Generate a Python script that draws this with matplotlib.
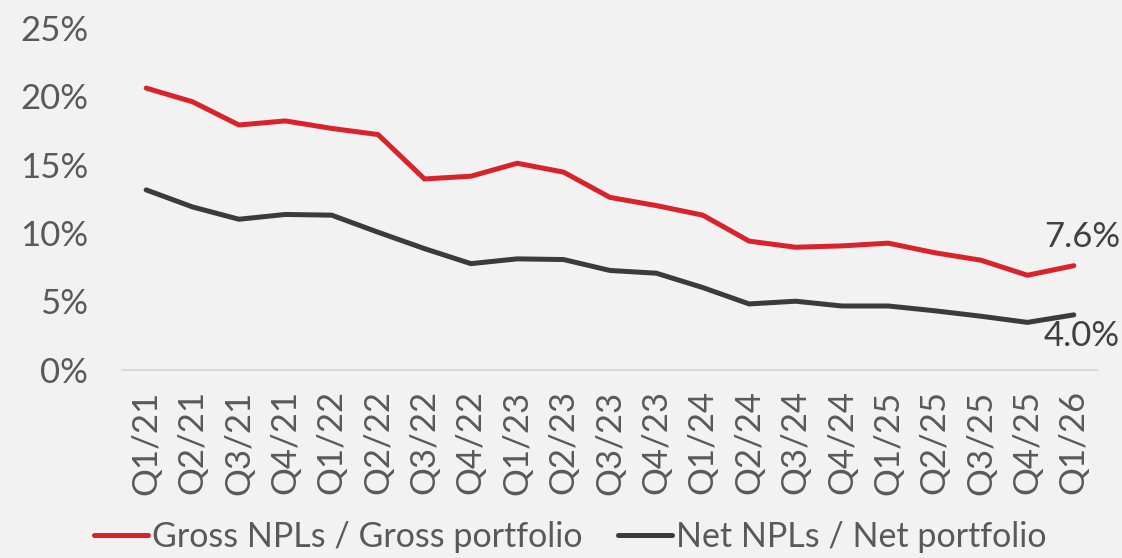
import matplotlib
matplotlib.use("Agg")
from matplotlib import pyplot as plt
from matplotlib.ticker import FuncFormatter

quarters = ["Q1/21", "Q2/21", "Q3/21", "Q4/21", "Q1/22", "Q2/22", "Q3/22", "Q4/22",
            "Q1/23", "Q2/23", "Q3/23", "Q4/23", "Q1/24", "Q2/24", "Q3/24", "Q4/24",
            "Q1/25", "Q2/25", "Q3/25", "Q4/25", "Q1/26"]

# ratios in %
gross = [20.6, 19.6, 17.9, 18.2, 17.65, 17.2, 13.95, 14.15, 15.1, 14.45, 12.6,
         12.0, 11.3, 9.4, 8.95, 9.05, 9.25, 8.55, 8.0, 6.9, 7.6]
net = [13.15, 11.9, 11.0, 11.35, 11.3, 10.05, 8.85, 7.75, 8.1, 8.05, 7.25,
       7.05, 6.0, 4.8, 5.0, 4.65, 4.65, 4.3, 3.9, 3.45, 4.0]

labels = ["Gross NPLs / Gross portfolio", "Net NPLs / Net portfolio"]

plt.rcParams['font.family'] = ['Lato', 'DejaVu Sans']
bg = "#f2f2f2"
txt = "#595959"
fs = 25

fig = plt.figure(figsize=(11.22, 5.58), dpi=100, facecolor=bg)
ax = fig.add_axes([0.1096, 0.3378, 0.8681, 0.612])
ax.set_facecolor(bg)

x = list(range(len(quarters)))
ax.plot(x, gross, color="#da222b", lw=3.6, solid_capstyle="round", label=labels[0])
ax.plot(x, net, color="#3b3b3b", lw=3.6, solid_capstyle="round", label=labels[1])

ax.set_xlim(-0.5, len(quarters) - 0.5)
ax.set_ylim(0, 25)
ax.set_yticks([0, 5, 10, 15, 20, 25])
ax.yaxis.set_major_formatter(FuncFormatter(lambda v, p: "%d%%" % v))
ax.set_xticks(x)
ax.set_xticklabels(quarters, rotation=90)

for s in ["top", "left", "right"]:
    ax.spines[s].set_visible(False)
ax.spines["bottom"].set_color("#d9d9d9")
ax.spines["bottom"].set_linewidth(1.5)
ax.tick_params(axis="both", length=0, labelsize=fs, colors=txt)
ax.tick_params(axis="y", pad=25)
ax.tick_params(axis="x", pad=15)

# end labels
ax.annotate("%.1f%%" % gross[-1], (x[-1], gross[-1]), xytext=(6, 9),
            textcoords="offset points", ha="center", va="bottom", fontsize=fs, color="#404040")
ax.annotate("%.1f%%" % net[-1], (x[-1], net[-1]), xytext=(6, -4),
            textcoords="offset points", ha="center", va="top", fontsize=fs, color="#404040")

leg = ax.legend(loc="center", bbox_to_anchor=(0.459, -0.49), ncol=2, frameon=False,
                fontsize=24.5, handlelength=1.6, handletextpad=0.1, columnspacing=1.05,
                borderaxespad=0)
for t in leg.get_texts():
    t.set_color(txt)

fig.savefig("out.png", dpi=100, facecolor=bg)
